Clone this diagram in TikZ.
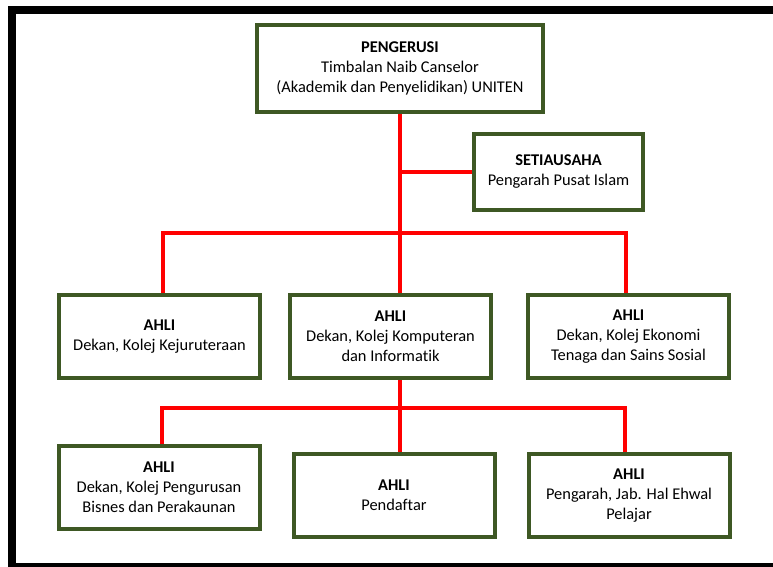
\documentclass[tikz,border=0pt]{standalone}
\usepackage{fontspec}
\setmainfont{Carlito}[Ligatures=NoCommon]
\usetikzlibrary{positioning,backgrounds}
\definecolor{ahligreen}{RGB}{62,88,36}
\newcommand{\UnitenChartSize}{1}

\begin{document}
\begin{tikzpicture}[
		ahlibox/.style={draw=ahligreen, line width=4pt, fill=white, align=center, inner sep=0pt, font=\fontsize{16.4}{20}\selectfont},
		rowbox/.style={ahlibox, minimum width=\UnitenChartSize*201pt, minimum height=\UnitenChartSize*83pt},
		redline/.style={draw=red, line width=4pt}
	]
		\useasboundingbox (0,0) rectangle (773pt,-567pt);
		\draw[line width=8pt] (773pt,-10pt) -- (12pt,-10pt) -- (12pt,-567pt) -- (773pt,-567pt);
		\node[ahlibox, minimum width=\UnitenChartSize*286pt, minimum height=\UnitenChartSize*87pt] (p) at (400pt,-68.5pt) {\textbf{PENGERUSI}\\Timbalan Naib Canselor\\(Akademik dan Penyelidikan) UNITEN};
		\node[ahlibox, minimum width=\UnitenChartSize*169pt, minimum height=\UnitenChartSize*76pt, below=\UnitenChartSize*18pt of p.south, anchor=north west, xshift=\UnitenChartSize*72pt] (s) {\textbf{SETIAUSAHA}\\Pengarah Pusat Islam};
		\node[rowbox, below=\UnitenChartSize*179pt of p.south, xshift=-\UnitenChartSize*9.5pt] (a2) {\textbf{AHLI}\\Dekan, Kolej Komputeran\\dan Informatik};
		\node[rowbox, left=\UnitenChartSize*26pt of a2] (a1) {\textbf{AHLI}\\Dekan, Kolej Kejuruteraan};
		\node[rowbox, right=\UnitenChartSize*33pt of a2] (a3) {\textbf{AHLI}\\Dekan, Kolej Ekonomi\\Tenaga dan Sains Sosial};
		\node[rowbox, below=\UnitenChartSize*72pt of a2.south, xshift=\UnitenChartSize*3.5pt] (b2) {\textbf{AHLI}\\Pendaftar};
		\node[rowbox, left=\UnitenChartSize*30pt of b2, yshift=\UnitenChartSize*8pt] (b1) {\textbf{AHLI}\\Dekan, Kolej Pengurusan\\Bisnes dan Perakaunan};
		\node[rowbox, right=\UnitenChartSize*30pt of b2] (b3) {\textbf{AHLI}\\Pengarah, Jab. Hal Ehwal\\Pelajar};
		\coordinate[below=\UnitenChartSize*119pt of p.south] (j1);
		\coordinate (j2) at ([yshift=-\UnitenChartSize*28pt]p.south |- a2.south);
		\begin{pgfonlayer}{background}
			\draw[redline] (p.south) -- (p.south |- a2.north);
			\draw[redline] (p.south |- s.west) -- (s.west);
			\draw[redline] ([xshift=\UnitenChartSize*3.5pt]a1.north) |- (j1) -| ([xshift=-\UnitenChartSize*3pt]a3.north);
			\draw[redline] (p.south |- a2.south) -- (p.south |- b2.north);
			\draw[redline] ([xshift=\UnitenChartSize*3pt]b1.north) |- (j2) -| ([xshift=-\UnitenChartSize*4pt]b3.north);
		\end{pgfonlayer}
	\end{tikzpicture}
\end{document}
